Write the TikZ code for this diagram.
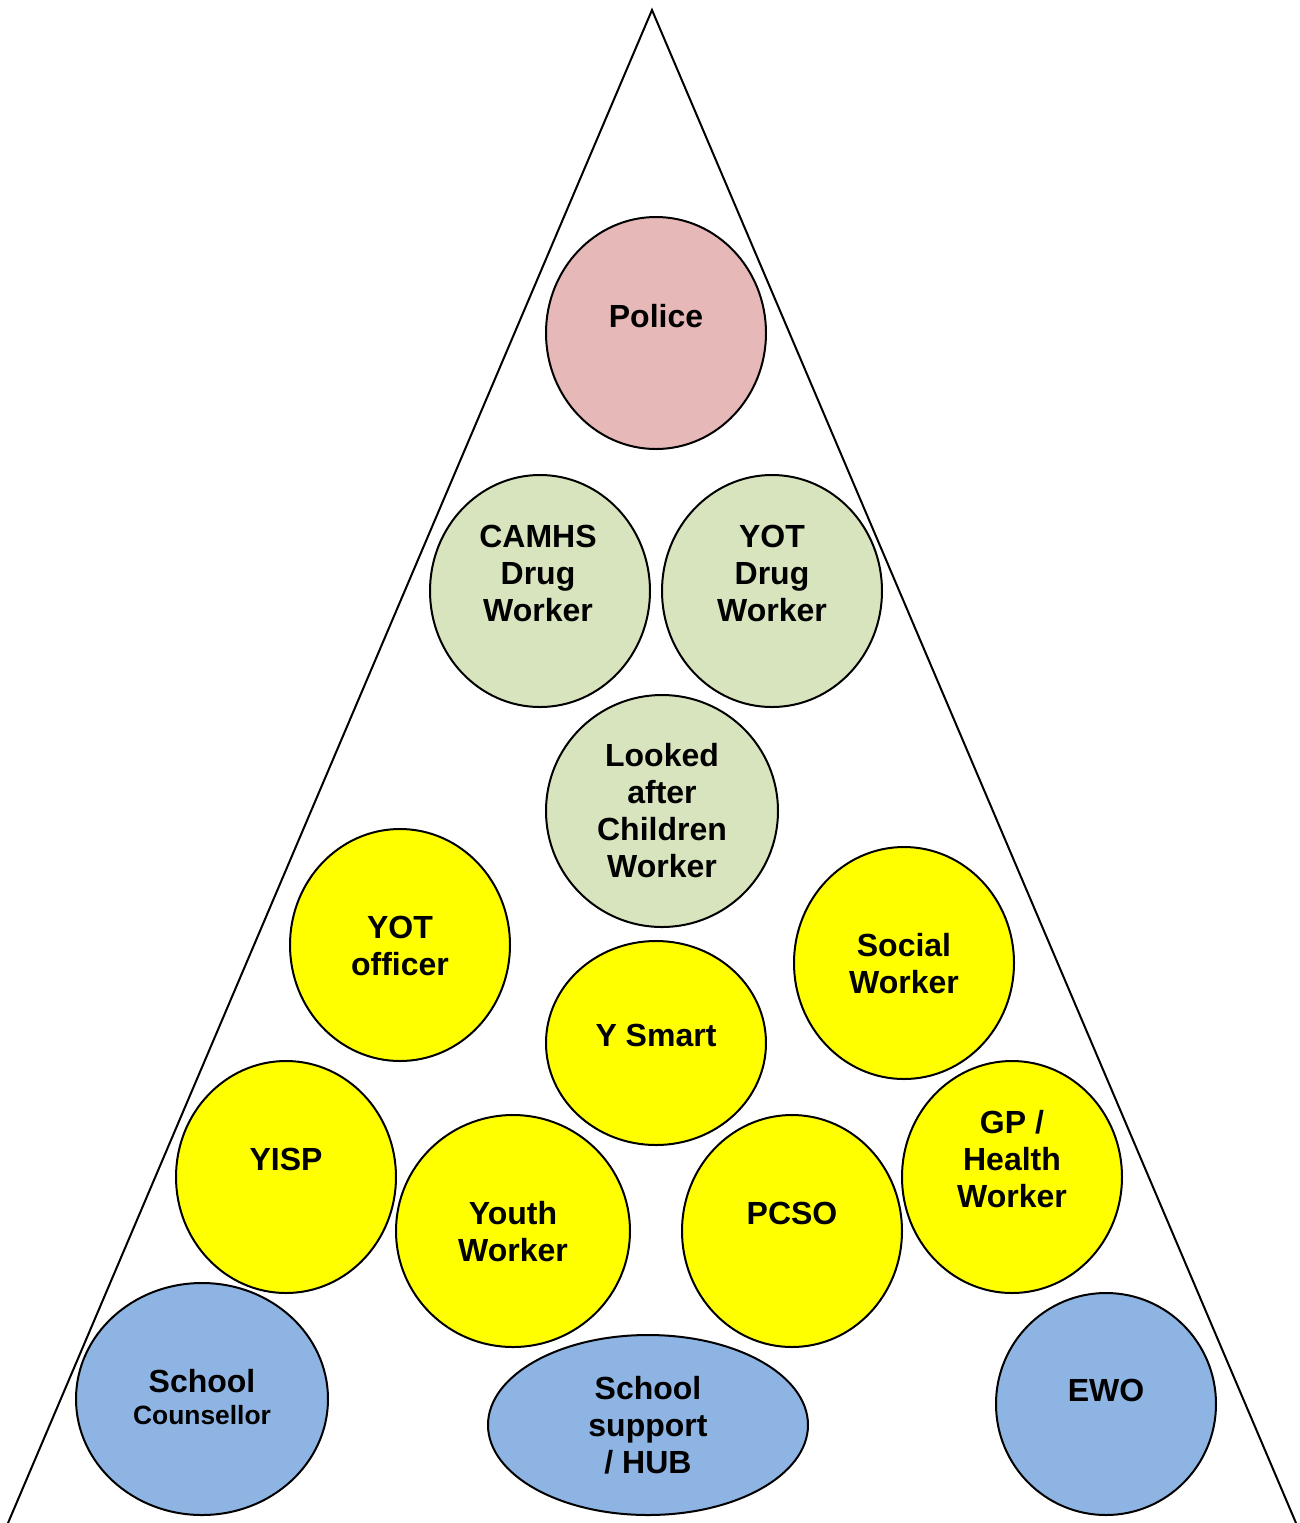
\documentclass[tikz,border=0pt]{standalone}
\usepackage{fontspec}
\setmainfont{Liberation Sans}
\usetikzlibrary{shapes.geometric}
\definecolor{pinkfill}{RGB}{230,184,183}
\definecolor{sage}{RGB}{215,228,189}
\definecolor{lemon}{RGB}{255,255,0}
\definecolor{sky}{RGB}{141,180,226}
\tikzset{agency/.style={ellipse,draw=black,line width=1pt,inner sep=0pt},lbl/.style={align=center,font=\fontsize{16}{18.5}\selectfont\bfseries,inner sep=0pt},edge/.style={line width=1pt,draw=black}}
\begin{document}
\begin{tikzpicture}[x=0.5pt,y=-0.5pt]
\useasboundingbox (0,0) rectangle (1300,1523);
\coordinate (apex) at (652,10);
\coordinate (footl) at (8,1523);
\coordinate (footr) at (1296,1523);
\draw[edge] (footl)--(apex)--(footr);
% top tier
\node[agency,fill=pinkfill,minimum width=110pt,minimum height=116pt] (police) at (656,333) {};
\node[lbl] at (656,316) {Police};
% green tier
\node[agency,fill=sage,minimum width=110pt,minimum height=116pt] (camhs) at (540,591) {};
\node[lbl] at (538,573) {CAMHS\\Drug\\Worker};
\node[agency,fill=sage,minimum width=110pt,minimum height=116pt] (yotdrug) at (772,591) {};
\node[lbl] at (772,573) {YOT\\Drug\\Worker};
\node[agency,fill=sage,minimum width=116pt,minimum height=116pt] (lac) at (662,811) {};
\node[lbl] at (662,811) {Looked\\after\\Children\\Worker};
% yellow tier
\node[agency,fill=lemon,minimum width=110pt,minimum height=116pt] (yotoff) at (400,945) {};
\node[lbl] at (400,945.5) {YOT\\officer};
\node[agency,fill=lemon,minimum width=110pt,minimum height=116pt] (social) at (904,963) {};
\node[lbl] at (904,963.5) {Social\\Worker};
\node[agency,fill=lemon,minimum width=110pt,minimum height=102pt] (ysmart) at (656,1043) {};
\node[lbl] at (656,1035) {Y Smart};
\node[agency,fill=lemon,minimum width=110pt,minimum height=116pt] (yisp) at (286,1177) {};
\node[lbl] at (286,1159) {YISP};
\node[agency,fill=lemon,minimum width=117pt,minimum height=116pt] (youth) at (513,1231) {};
\node[lbl] at (513,1231.5) {Youth\\Worker};
\node[agency,fill=lemon,minimum width=110pt,minimum height=116pt] (pcso) at (792,1231) {};
\node[lbl] at (792,1213) {PCSO};
\node[agency,fill=lemon,minimum width=110pt,minimum height=116pt] (gp) at (1012,1177) {};
\node[lbl] at (1012,1159) {GP /\\Health\\Worker};
% school tier
\node[agency,fill=sky,minimum width=126pt,minimum height=116pt] (counsel) at (202,1399) {};
\node[lbl] at (202,1381) {School};
\node[lbl,font=\fontsize{13.2}{15}\selectfont\bfseries] at (202,1415) {Counsellor};
\node[agency,fill=sky,minimum width=160pt,minimum height=90pt] (hub) at (648,1425) {};
\node[lbl] at (648,1425) {School\\support\\/ HUB};
\node[agency,fill=sky,minimum width=110pt,minimum height=111pt] (ewo) at (1106,1404) {};
\node[lbl] at (1106,1390) {EWO};
\end{tikzpicture}
\end{document}
